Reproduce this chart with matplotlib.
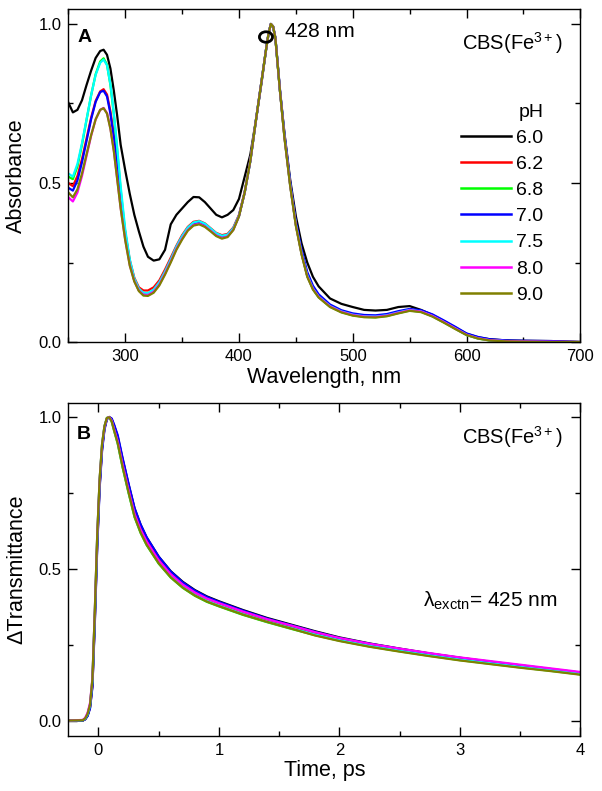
import matplotlib
matplotlib.use("Agg")
import matplotlib.pyplot as plt
from matplotlib.patches import Ellipse
from matplotlib.ticker import MultipleLocator, FormatStrFormatter

plt.rcParams["font.family"] = ["Liberation Sans", "DejaVu Sans"]
plt.rcParams["mathtext.fontset"] = "custom"
plt.rcParams["mathtext.rm"] = "Liberation Sans"
plt.rcParams["mathtext.it"] = "Liberation Sans:italic"
plt.rcParams["mathtext.bf"] = "Liberation Sans:bold"

# ---- panel A: absorbance spectra ----
wavelength = [250, 254, 258, 262, 266, 270, 274, 278, 281, 284,
              287, 290, 293, 296, 300, 304, 308, 312, 316, 320,
              325, 330, 335, 340, 345, 350, 355, 360, 365, 370,
              375, 380, 385, 390, 395, 400, 405, 410, 415, 420,
              424, 426, 428, 430, 432, 436, 440, 445, 450, 455,
              460, 465, 470, 480, 490, 500, 510, 520, 530, 540,
              550, 560, 570, 580, 590, 600, 610, 620, 635, 650,
              675, 700]

abs_ph60 = [0.753, 0.722, 0.730, 0.760, 0.808, 0.853, 0.893, 0.915, 0.919, 0.903,
            0.860, 0.790, 0.710, 0.620, 0.540, 0.466, 0.400, 0.348, 0.300, 0.268,
            0.256, 0.260, 0.290, 0.370, 0.400, 0.420, 0.440, 0.456, 0.455, 0.440,
            0.420, 0.400, 0.392, 0.400, 0.415, 0.450, 0.520, 0.590, 0.700, 0.820,
            0.925, 0.970, 1.000, 0.990, 0.955, 0.790, 0.655, 0.510, 0.395, 0.310,
            0.250, 0.205, 0.175, 0.137, 0.120, 0.110, 0.101, 0.099, 0.101, 0.110,
            0.113, 0.101, 0.085, 0.066, 0.046, 0.026, 0.015, 0.009, 0.005, 0.004,
            0.003, 0.000]
abs_ph62 = [0.500, 0.490, 0.522, 0.575, 0.640, 0.705, 0.758, 0.788, 0.795, 0.778,
            0.725, 0.650, 0.555, 0.455, 0.345, 0.258, 0.202, 0.172, 0.162, 0.162,
            0.172, 0.194, 0.228, 0.265, 0.303, 0.336, 0.362, 0.378, 0.381, 0.373,
            0.358, 0.343, 0.336, 0.340, 0.360, 0.400, 0.472, 0.572, 0.700, 0.825,
            0.925, 0.970, 1.000, 0.992, 0.955, 0.790, 0.645, 0.495, 0.370, 0.280,
            0.210, 0.169, 0.144, 0.114, 0.097, 0.087, 0.082, 0.081, 0.085, 0.094,
            0.101, 0.097, 0.083, 0.064, 0.044, 0.024, 0.013, 0.007, 0.003, 0.002,
            0.001, 0.000]
abs_ph68 = [0.520, 0.512, 0.552, 0.620, 0.698, 0.775, 0.842, 0.882, 0.892, 0.872,
            0.808, 0.715, 0.600, 0.478, 0.345, 0.252, 0.194, 0.163, 0.150, 0.149,
            0.160, 0.183, 0.217, 0.255, 0.295, 0.328, 0.355, 0.371, 0.375, 0.367,
            0.352, 0.337, 0.329, 0.334, 0.355, 0.396, 0.470, 0.570, 0.700, 0.825,
            0.925, 0.970, 1.000, 0.992, 0.955, 0.790, 0.643, 0.492, 0.367, 0.277,
            0.207, 0.166, 0.141, 0.111, 0.094, 0.084, 0.079, 0.078, 0.082, 0.091,
            0.099, 0.095, 0.081, 0.062, 0.042, 0.022, 0.011, 0.005, 0.002, 0.001,
            0.000, 0.000]
abs_ph70 = [0.485, 0.476, 0.508, 0.565, 0.632, 0.700, 0.755, 0.786, 0.790, 0.772,
            0.718, 0.642, 0.545, 0.445, 0.335, 0.250, 0.195, 0.164, 0.152, 0.152,
            0.162, 0.185, 0.219, 0.257, 0.297, 0.330, 0.357, 0.373, 0.376, 0.368,
            0.353, 0.338, 0.331, 0.336, 0.356, 0.397, 0.470, 0.570, 0.700, 0.825,
            0.925, 0.970, 1.000, 0.992, 0.957, 0.795, 0.652, 0.503, 0.378, 0.290,
            0.220, 0.177, 0.150, 0.118, 0.100, 0.090, 0.085, 0.084, 0.088, 0.097,
            0.104, 0.100, 0.087, 0.068, 0.048, 0.027, 0.016, 0.009, 0.005, 0.004,
            0.003, 0.000]
abs_ph75 = [0.530, 0.520, 0.560, 0.625, 0.700, 0.775, 0.840, 0.878, 0.888, 0.870,
            0.810, 0.720, 0.610, 0.490, 0.355, 0.260, 0.200, 0.168, 0.155, 0.154,
            0.165, 0.188, 0.222, 0.260, 0.300, 0.333, 0.360, 0.376, 0.380, 0.372,
            0.357, 0.342, 0.334, 0.338, 0.358, 0.398, 0.470, 0.570, 0.700, 0.825,
            0.925, 0.970, 1.000, 0.992, 0.955, 0.790, 0.645, 0.495, 0.370, 0.280,
            0.210, 0.168, 0.143, 0.113, 0.096, 0.086, 0.081, 0.080, 0.084, 0.093,
            0.101, 0.096, 0.082, 0.063, 0.043, 0.023, 0.012, 0.006, 0.003, 0.001,
            0.000, 0.000]
abs_ph80 = [0.455, 0.442, 0.470, 0.522, 0.585, 0.648, 0.700, 0.730, 0.736, 0.720,
            0.672, 0.602, 0.512, 0.422, 0.322, 0.242, 0.192, 0.162, 0.149, 0.148,
            0.158, 0.181, 0.215, 0.253, 0.293, 0.325, 0.352, 0.368, 0.372, 0.364,
            0.350, 0.335, 0.327, 0.332, 0.353, 0.396, 0.470, 0.570, 0.700, 0.825,
            0.925, 0.970, 1.000, 0.992, 0.955, 0.790, 0.642, 0.492, 0.367, 0.277,
            0.207, 0.167, 0.142, 0.112, 0.095, 0.085, 0.080, 0.079, 0.083, 0.092,
            0.100, 0.096, 0.082, 0.063, 0.043, 0.023, 0.012, 0.006, 0.003, 0.002,
            0.001, 0.000]
abs_ph90 = [0.470, 0.455, 0.480, 0.530, 0.590, 0.650, 0.700, 0.730, 0.735, 0.718,
            0.670, 0.600, 0.510, 0.420, 0.320, 0.240, 0.190, 0.160, 0.146, 0.145,
            0.155, 0.178, 0.212, 0.250, 0.290, 0.322, 0.350, 0.366, 0.370, 0.362,
            0.348, 0.333, 0.325, 0.330, 0.352, 0.395, 0.470, 0.570, 0.700, 0.825,
            0.925, 0.970, 1.000, 0.992, 0.955, 0.790, 0.640, 0.490, 0.365, 0.275,
            0.205, 0.165, 0.140, 0.110, 0.093, 0.083, 0.078, 0.077, 0.081, 0.090,
            0.098, 0.094, 0.080, 0.061, 0.041, 0.022, 0.011, 0.005, 0.002, 0.001,
            0.000, 0.000]

# ---- panel B: transient transmittance ----
time_ps = [-0.25, -0.13, -0.11, -0.09, -0.07, -0.05, -0.03, -0.01, 0.01, 0.03,
           0.05, 0.07, 0.09, 0.11, 0.13, 0.16, 0.20, 0.25, 0.30, 0.35,
           0.40, 0.50, 0.60, 0.70, 0.80, 0.90, 1.00, 1.20, 1.40, 1.60,
           1.80, 2.00, 2.25, 2.50, 2.75, 3.00, 3.25, 3.50, 3.75, 4.00]

dt_ph60 = [0.000, 0.000, 0.004, 0.016, 0.042, 0.115, 0.330, 0.580, 0.772, 0.895,
           0.962, 0.994, 1.000, 0.993, 0.972, 0.935, 0.862, 0.778, 0.698, 0.645,
           0.603, 0.540, 0.492, 0.457, 0.430, 0.409, 0.393, 0.364, 0.338, 0.316,
           0.294, 0.274, 0.254, 0.237, 0.221, 0.207, 0.194, 0.182, 0.170, 0.158]
dt_ph62 = [0.000, 0.000, 0.005, 0.018, 0.045, 0.120, 0.340, 0.590, 0.780, 0.900,
           0.965, 0.995, 1.000, 0.990, 0.965, 0.925, 0.850, 0.765, 0.685, 0.632,
           0.592, 0.530, 0.483, 0.448, 0.421, 0.401, 0.386, 0.357, 0.332, 0.310,
           0.288, 0.269, 0.250, 0.233, 0.218, 0.204, 0.191, 0.179, 0.168, 0.156]
dt_ph68 = [0.000, 0.001, 0.007, 0.022, 0.052, 0.135, 0.360, 0.610, 0.795, 0.910,
           0.970, 0.997, 0.999, 0.985, 0.955, 0.912, 0.835, 0.750, 0.670, 0.618,
           0.578, 0.517, 0.471, 0.437, 0.411, 0.391, 0.376, 0.348, 0.324, 0.302,
           0.281, 0.263, 0.244, 0.228, 0.213, 0.199, 0.187, 0.175, 0.164, 0.152]
dt_ph70 = [0.000, 0.000, 0.004, 0.015, 0.040, 0.110, 0.320, 0.570, 0.765, 0.888,
           0.958, 0.992, 1.000, 0.995, 0.975, 0.940, 0.866, 0.780, 0.700, 0.646,
           0.604, 0.540, 0.491, 0.455, 0.428, 0.407, 0.391, 0.362, 0.336, 0.314,
           0.292, 0.272, 0.253, 0.236, 0.220, 0.206, 0.193, 0.181, 0.169, 0.157]
dt_ph75 = [0.000, 0.001, 0.006, 0.020, 0.050, 0.130, 0.352, 0.602, 0.790, 0.906,
           0.968, 0.996, 1.000, 0.987, 0.958, 0.916, 0.839, 0.754, 0.674, 0.622,
           0.582, 0.520, 0.474, 0.440, 0.414, 0.394, 0.379, 0.351, 0.326, 0.305,
           0.283, 0.265, 0.246, 0.230, 0.215, 0.201, 0.189, 0.177, 0.166, 0.154]
dt_ph80 = [0.000, 0.002, 0.009, 0.026, 0.058, 0.140, 0.365, 0.612, 0.795, 0.908,
           0.968, 0.996, 1.000, 0.988, 0.960, 0.920, 0.845, 0.760, 0.681, 0.629,
           0.590, 0.528, 0.482, 0.448, 0.422, 0.402, 0.387, 0.359, 0.334, 0.313,
           0.291, 0.272, 0.253, 0.237, 0.222, 0.208, 0.196, 0.184, 0.172, 0.160]
dt_ph90 = [0.000, 0.001, 0.007, 0.022, 0.052, 0.136, 0.362, 0.612, 0.797, 0.911,
           0.970, 0.997, 0.999, 0.985, 0.955, 0.913, 0.836, 0.751, 0.671, 0.619,
           0.579, 0.518, 0.472, 0.438, 0.412, 0.392, 0.377, 0.349, 0.325, 0.303,
           0.280, 0.262, 0.243, 0.227, 0.212, 0.198, 0.186, 0.174, 0.163, 0.151]

ph_labels = ["6.0", "6.2", "6.8", "7.0", "7.5", "8.0", "9.0"]
colors = ["#000000", "#ff0000", "#00ff00", "#0000ff", "#00ffff", "#ff00ff", "#808000"]
spectra = [abs_ph60, abs_ph62, abs_ph68, abs_ph70, abs_ph75, abs_ph80, abs_ph90]
kinetics = [dt_ph60, dt_ph62, dt_ph68, dt_ph70, dt_ph75, dt_ph80, dt_ph90]


def style_axes(ax, xmajor, xminor, xfmt):
    ax.xaxis.set_major_locator(MultipleLocator(xmajor))
    ax.xaxis.set_minor_locator(MultipleLocator(xminor))
    ax.yaxis.set_major_locator(MultipleLocator(0.5))
    ax.yaxis.set_minor_locator(MultipleLocator(0.25))
    ax.xaxis.set_major_formatter(FormatStrFormatter(xfmt))
    ax.yaxis.set_major_formatter(FormatStrFormatter("%.1f"))
    ax.tick_params(which="both", direction="in", top=True, right=True,
                   width=1.0, labelsize=12, pad=5)
    ax.tick_params(which="major", length=6.5)
    ax.tick_params(which="minor", length=3.5)
    for sp in ax.spines.values():
        sp.set_linewidth(1.0)


fig = plt.figure(figsize=(6.02, 7.91), dpi=100)
ax1 = fig.add_axes([0.1135, 0.5676, 0.8505, 0.4210])
ax2 = fig.add_axes([0.1135, 0.0699, 0.8505, 0.4202])

for vals, c, lab in zip(spectra, colors, ph_labels):
    ax1.plot(wavelength, vals, color=c, lw=1.6, label=lab)
ax1.set_xlim(250, 700)
ax1.set_ylim(0, 1.047)
style_axes(ax1, 100, 50, "%d")
ax1.set_xlabel("Wavelength, nm", fontsize=15.5, labelpad=2)
ax1.set_ylabel("Absorbance", fontsize=15.5, labelpad=8)

ax1.add_patch(Ellipse((423.7, 0.959), width=11.5, height=0.033,
                      fill=False, edgecolor="black", lw=2.0, zorder=5))
ax1.text(440.5, 0.96, "428 nm", fontsize=15, ha="left", va="baseline")
ax1.text(0.017, 0.913, "A", transform=ax1.transAxes, fontsize=14,
         fontweight="bold", ha="left", va="center")
ax1.text(0.965, 0.898, "CBS(Fe$^{3+}$)", transform=ax1.transAxes,
         fontsize=14.5, ha="right", va="center")
leg = ax1.legend(title="pH", loc="upper right", bbox_to_anchor=(0.928, 0.716),
                 frameon=False, fontsize=14, title_fontsize=14,
                 handlelength=2.6, handletextpad=0.25, labelspacing=0.44,
                 borderpad=0, borderaxespad=0, alignment="right")
for ln in leg.get_lines():
    ln.set_linewidth(1.8)

for vals, c in zip(kinetics, colors):
    ax2.plot(time_ps, vals, color=c, lw=1.6)
ax2.set_xlim(-0.25, 4)
ax2.set_ylim(-0.05, 1.045)
style_axes(ax2, 1, 0.5, "%d")
ax2.set_xlabel("Time, ps", fontsize=15.5, labelpad=2)
ax2.set_ylabel("\u0394Transmittance", fontsize=15.5, labelpad=8)
ax2.text(0.017, 0.905, "B", transform=ax2.transAxes, fontsize=14,
         fontweight="bold", ha="left", va="center")
ax2.text(0.965, 0.899, "CBS(Fe$^{3+}$)", transform=ax2.transAxes,
         fontsize=14.5, ha="right", va="center")
ax2.text(0.956, 0.387, "\u03bb$_{\\mathrm{exctn}}$= 425 nm", transform=ax2.transAxes,
         fontsize=15, ha="right", va="baseline")

fig.savefig("out.png", dpi=100)
